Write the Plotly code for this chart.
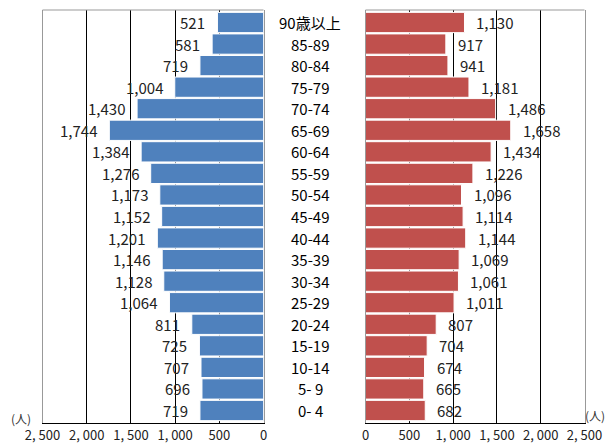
import plotly.graph_objects as go

ages = ["90歳以上", "85-89", "80-84", "75-79", "70-74", "65-69", "60-64", "55-59",
        "50-54", "45-49", "40-44", "35-39", "30-34", "25-29", "20-24", "15-19",
        "10-14", "5- 9", "0- 4"]
left_vals = [521, 581, 719, 1004, 1430, 1744, 1384, 1276, 1173, 1152, 1201, 1146,
             1128, 1064, 811, 725, 707, 696, 719]
right_vals = [1130, 917, 941, 1181, 1486, 1658, 1434, 1226, 1096, 1114, 1144, 1069,
              1061, 1011, 807, 704, 674, 665, 682]
tick_vals = [0, 500, 1000, 1500, 2000, 2500]
tick_text = ["0", "500", "1, 000", "1, 500", "2, 000", "2, 500"]

FONT = "Noto Sans CJK JP"
OFF = 8  # page body margin
W, H = 614 - 2 * OFF, 446 - OFF
BLUE = "#4F81BD"
RED = "#C0504D"


def px(x):
    return (x - OFF) / W


def py(y):
    return (H - (y - OFF)) / H


fig = go.Figure()
fig.add_trace(go.Bar(y=ages, x=left_vals, orientation="h", xaxis="x", yaxis="y",
                     marker=dict(color=BLUE, line=dict(color="white", width=1)),
                     showlegend=False, hoverinfo="x+y"))
fig.add_trace(go.Bar(y=ages, x=right_vals, orientation="h", xaxis="x2", yaxis="y2",
                     marker=dict(color=RED, line=dict(color="white", width=1)),
                     showlegend=False, hoverinfo="x+y"))

ydom = [py(423), py(10)]
xdom1 = [px(42.5), px(263.5)]
xdom2 = [px(365.5), px(584.5)]

axis_common = dict(tickvals=tick_vals, ticktext=tick_text, automargin=False,
                   showgrid=True, gridcolor="#000000", gridwidth=1,
                   zeroline=False, showline=True, linecolor="#000000", linewidth=1,
                   ticks="", tickfont=dict(family=FONT, size=13, color="#222"))
yaxis_common = dict(categoryorder="array", categoryarray=ages[::-1], automargin=False,
                    showticklabels=False, showgrid=False, showline=True, mirror=True,
                    linecolor="#999999", linewidth=1, ticks="", zeroline=False)

fig.update_layout(
    width=W, height=H, autosize=False,
    margin=dict(l=0, r=0, t=0, b=0, pad=0, autoexpand=False),
    paper_bgcolor="white", plot_bgcolor="white",
    bargap=0.06,
    font=dict(family=FONT),
    xaxis=dict(domain=xdom1, anchor="y", range=[2500, 0], **axis_common),
    xaxis2=dict(domain=xdom2, anchor="y2", range=[0, 2500], **axis_common),
    yaxis=dict(domain=ydom, anchor="x", **yaxis_common),
    yaxis2=dict(domain=ydom, anchor="x2", **yaxis_common),
)

# top borders
for dom in (xdom1, xdom2):
    fig.add_shape(type="line", xref="paper", yref="paper", x0=dom[0], x1=dom[1],
                  y0=ydom[1], y1=ydom[1], line=dict(color="#999999", width=1))

annotations = []
for a, v in zip(ages, left_vals):
    annotations.append(dict(x=v, y=a, xref="x", yref="y", text=f"{v:,}",
                            showarrow=False, xanchor="right", xshift=-10,
                            font=dict(family=FONT, size=15, color="#222")))
for a, v in zip(ages, right_vals):
    annotations.append(dict(x=v, y=a, xref="x2", yref="y2", text=f"{v:,}",
                            showarrow=False, xanchor="left", xshift=10,
                            font=dict(family=FONT, size=15, color="#222")))
for a in ages:
    annotations.append(dict(x=px(310), y=a, xref="paper", yref="paper" if False else "y", text=a,
                            showarrow=False, xanchor="center",
                            font=dict(family=FONT, size=15, color="#000")))
annotations.append(dict(x=px(21), y=py(418), xref="paper", yref="paper", text="(人)",
                        xanchor="center", yanchor="middle",
                        showarrow=False, font=dict(family=FONT, size=12, color="#333")))
annotations.append(dict(x=px(595), y=py(415), xref="paper", yref="paper", text="(人)",
                        xanchor="center", yanchor="middle",
                        showarrow=False, font=dict(family=FONT, size=12, color="#333")))
fig.update_layout(annotations=annotations)

fig.write_html("out.html")
